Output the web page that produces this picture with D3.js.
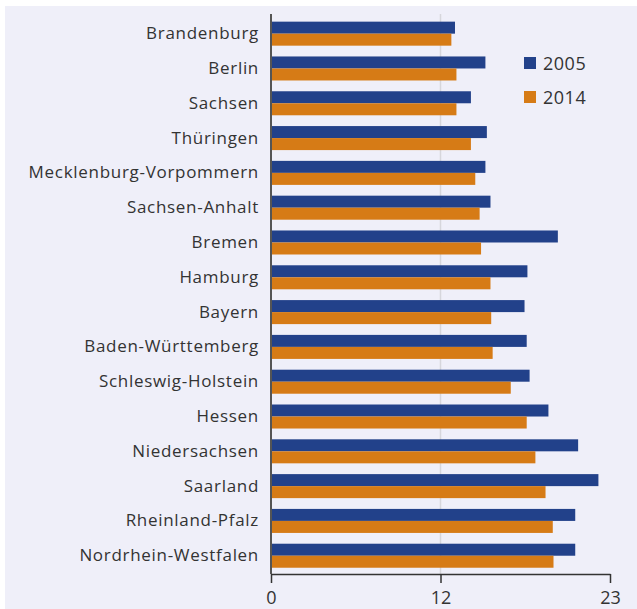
<!DOCTYPE html>
<html>
<head>
<meta charset="utf-8">
<script src="https://cdn.jsdelivr.net/npm/d3@7"></script>
<style>
  body { margin: 0; background: #fff; }
  svg { display: block; font-family: "Open Sans", "Noto Sans", sans-serif; }
</style>
</head>
<body>
<div id="chart"></div>
<script>
const states = ["Brandenburg", "Berlin", "Sachsen", "Thüringen", "Mecklenburg-Vorpommern",
  "Sachsen-Anhalt", "Bremen", "Hamburg", "Bayern", "Baden-Württemberg", "Schleswig-Holstein",
  "Hessen", "Niedersachsen", "Saarland", "Rheinland-Pfalz", "Nordrhein-Westfalen"];
const values2005 = [12.7, 14.8, 13.8, 14.9, 14.8, 15.15, 19.8, 17.7, 17.5, 17.65, 17.85,
  19.15, 21.2, 22.6, 21.0, 21.0];
const values2014 = [12.45, 12.8, 12.8, 13.8, 14.1, 14.4, 14.5, 15.15, 15.2, 15.3, 16.55,
  17.65, 18.25, 18.95, 19.45, 19.5];
const seriesNames = ["2005", "2014"];
const seriesColors = ["#22418a", "#d67b16"];
const axisMax = 23.4;
const tickValues = [0, axisMax / 2, axisMax];

const W = 637, H = 609;
const margin = { top: 14, right: 27, bottom: 35, left: 271 };

const svg = d3.select("#chart").append("svg")
  .attr("width", W)
  .attr("height", H);

// panel background
svg.append("rect")
  .attr("x", 5).attr("y", 6)
  .attr("width", W - 5).attr("height", H - 6)
  .attr("fill", "#efeff9");

const x = d3.scaleLinear()
  .domain([0, axisMax])
  .range([margin.left, W - margin.right]);

const y = d3.scaleBand()
  .domain(states)
  .range([margin.top, H - margin.bottom])
  .paddingInner(0.31)
  .paddingOuter(0.2)
  .align(0.55);

const ySub = d3.scaleBand()
  .domain(seriesNames)
  .range([0, y.bandwidth()]);

// middle gridline
svg.append("line")
  .attr("x1", x(tickValues[1])).attr("x2", x(tickValues[1]))
  .attr("y1", margin.top).attr("y2", H - margin.bottom)
  .attr("stroke", "#d6d6dc")
  .attr("stroke-width", 1.5);

// bars
const rows = states.map((s, i) => ({ state: s, vals: [values2005[i], values2014[i]] }));
const groups = svg.append("g").selectAll("g")
  .data(rows)
  .join("g")
  .attr("transform", d => `translate(0,${y(d.state)})`);

groups.selectAll("rect")
  .data(d => d.vals.map((v, k) => ({ key: seriesNames[k], v, color: seriesColors[k] })))
  .join("rect")
  .attr("x", x(0))
  .attr("y", d => ySub(d.key))
  .attr("width", d => x(d.v) - x(0))
  .attr("height", ySub.bandwidth())
  .attr("fill", d => d.color);

// x axis
const xAxis = svg.append("g")
  .attr("transform", `translate(0,${H - margin.bottom})`)
  .call(d3.axisBottom(x).tickValues(tickValues).tickFormat(d3.format(".0f")).tickSize(9).tickSizeOuter(0));
xAxis.select(".domain").attr("stroke", "#333").attr("stroke-width", 1.5);
xAxis.selectAll(".tick line").attr("stroke", "#333").attr("stroke-width", 1.5);
xAxis.selectAll(".tick text")
  .attr("font-family", "Open Sans, Noto Sans, sans-serif")
  .attr("font-size", 18)
  .attr("fill", "#333")
  .attr("dy", "1em");

// y axis line
svg.append("line")
  .attr("x1", x(0)).attr("x2", x(0))
  .attr("y1", margin.top).attr("y2", H - margin.bottom)
  .attr("stroke", "#555")
  .attr("stroke-width", 2);

// category labels
svg.append("g").selectAll("text")
  .data(states)
  .join("text")
  .attr("x", 259)
  .attr("y", d => y(d) + y.bandwidth() / 2 - 1)
  .attr("text-anchor", "end")
  .attr("dominant-baseline", "central")
  .attr("font-size", 17)
  .attr("letter-spacing", 0.7)
  .attr("fill", "#333")
  .text(d => d);

// legend
const legend = svg.append("g").attr("transform", "translate(524,57)");
seriesNames.forEach((name, i) => {
  const row = legend.append("g").attr("transform", `translate(0,${i * 34})`);
  row.append("rect")
    .attr("width", 12).attr("height", 12)
    .attr("fill", seriesColors[i]);
  row.append("text")
    .attr("x", 19).attr("y", 6)
    .attr("dominant-baseline", "central")
    .attr("font-size", 18)
    .attr("letter-spacing", 0.5)
    .attr("fill", "#333")
    .text(name);
});
</script>
</body>
</html>
